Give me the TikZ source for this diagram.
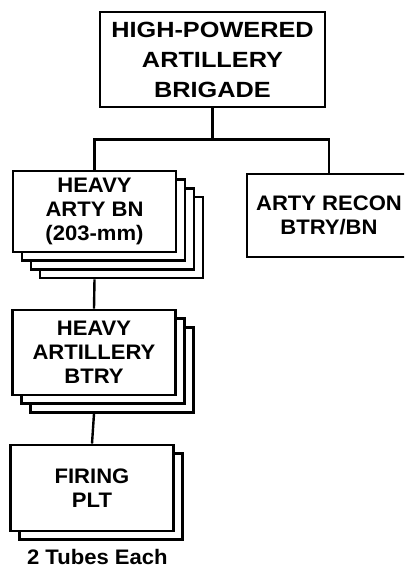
\documentclass[tikz,border=0pt]{standalone}
\usepackage{fontspec}
\setmainfont{Liberation Sans}
\newfontfamily\orgfont[FakeStretch=1.05]{Liberation Sans}
\newfontfamily\topfont[FakeStretch=1.15]{Liberation Sans}
\usetikzlibrary{positioning, shadows}

\begin{document}
\begin{tikzpicture}[
    x=0.75pt, y=-0.75pt,
    unit/.style={rectangle, draw=black, line width=2.2pt, fill=white, align=center, inner sep=0pt,
        minimum width=122.25pt, minimum height=61pt, font=\orgfont\bfseries\fontsize{15.75}{18}\selectfont},
    hq/.style={unit, minimum width=168.75pt, minimum height=71.25pt, font=\topfont\bfseries\fontsize{16.5}{22.5}\selectfont},
    copyA/.style={general shadow={shadow xshift=6.75pt, shadow yshift=-6.5pt, draw=black, fill=white, line width=2.2pt}},
    copyB/.style={general shadow={shadow xshift=13.5pt, shadow yshift=-13pt, draw=black, fill=white, line width=2.2pt}},
    copyC/.style={general shadow={shadow xshift=20.25pt, shadow yshift=-19.5pt, draw=black, fill=white, line width=2.2pt}},
    onecopy/.style={copyA},
    twocopies/.style={copyB, copyA},
    threecopies/.style={copyC, copyB, copyA},
    link/.style={line width=1.8pt},
    note/.style={font=\orgfont\bfseries\fontsize{15.75}{18}\selectfont, inner sep=0pt}
]
\useasboundingbox (0,0) rectangle (404,567);
\clip (0,0) rectangle (404,567);

% Units
\node[hq] (brigade) at (212.5,59.5) {HIGH-POWERED\\ARTILLERY\\BRIGADE};
\node[unit, threecopies, minimum height=60.75pt] (hvybn) at (94.5,211.5) {HEAVY\\ARTY BN\\(203-mm)};
\node[unit, minimum width=123pt, minimum height=62.25pt] (recon) at (329,215.5) {ARTY RECON\\BTRY/BN};
\node[unit, twocopies, minimum height=63.75pt] (btry) at (94,352.5) {HEAVY\\ARTILLERY\\BTRY};
\node[unit, onecopy, minimum height=64.5pt] (firing) at (92,488) {FIRING\\PLT};
\node[note, anchor=base] (tubes) at ([xshift=4pt, yshift=-24pt]firing.south) {2 Tubes Each};

% Links
\draw[link] (brigade.south) -- ++(0,31) coordinate (bar);
\draw[link] (hvybn.north) |- (bar) -| (recon.north);
\draw[link] ([yshift=-19.5pt]hvybn.south) -- (btry.north);
\draw[link] ([yshift=-13pt]btry.south) -- (firing.north);

\end{tikzpicture}
\end{document}
